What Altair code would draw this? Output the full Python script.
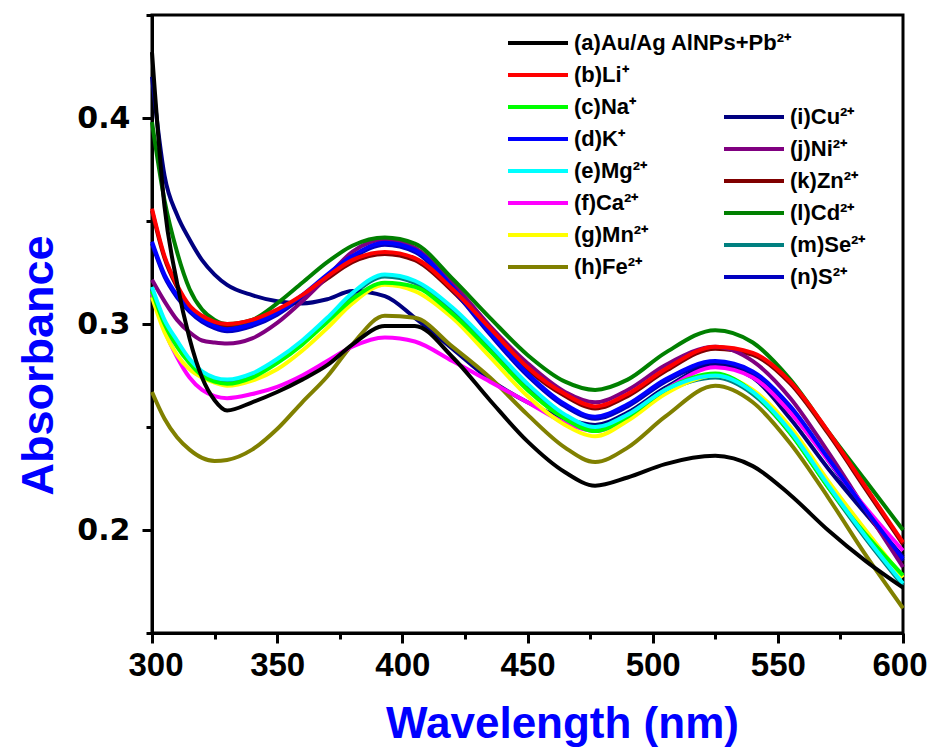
import altair as alt
import pandas as pd

# Wavelength grid (nm)
WL = [300, 305, 310, 315, 320, 325, 330, 340, 350, 360, 370, 380, 393, 405, 420,
      435, 450, 465, 477, 490, 505, 525, 540, 555, 570, 585, 600]

# Absorbance values
A_PB = [.432, .357, .320, .293, .274, .263, .258, .262, .267, .273, .280, .290, .299, .299, .284,
        .263, .243, .228, .2215, .2255, .232, .236, .231, .217, .200, .185, .172]
B_LI = [.356, .333, .319, .309, .304, .301, .300, .302, .307, .314, .323, .331, .335, .332, .317,
        .298, .279, .266, .260, .266, .278, .289, .286, .272, .248, .221, .194]
C_NA = [.316, .300, .289, .281, .275, .272, .271, .274, .281, .290, .301, .312, .320, .318, .305,
        .287, .268, .254, .248, .255, .268, .276, .267, .247, .221, .198, .178]
D_K = [.340, .324, .314, .307, .302, .299, .2975, .300, .3055, .314, .324, .333, .3395, .336, .318,
       .296, .276, .261, .255, .261, .273, .282, .277, .260, .235, .210, .186]
E_MG = [.318, .302, .292, .283, .277, .274, .273, .276, .283, .292, .303, .315, .324, .321, .308,
        .290, .271, .256, .250, .256, .268, .275, .267, .248, .222, .197, .174]
F_CA = [.315, .297, .284, .274, .268, .265, .264, .266, .2695, .275, .282, .289, .2935, .2915, .282,
        .272, .262, .252, .248, .255, .268, .279, .274, .257, .234, .211, .190]
G_MN = [.313, .296, .285, .278, .274, .2715, .270, .2725, .278, .287, .298, .310, .319, .316, .303,
        .284, .265, .251, .2455, .253, .266, .275, .268, .250, .224, .200, .177]
H_FE = [.267, .254, .245, .239, .235, .2335, .234, .239, .249, .262, .2745, .290, .304, .303, .289,
        .274, .256, .240, .233, .240, .255, .270, .262, .242, .216, .188, .162]
I_CU = [.420, .372, .353, .341, .331, .324, .319, .314, .311, .310, .312, .316, .3135, .303, .288,
        .273, .262, .254, .251, .257, .269, .280, .274, .254, .230, .208, .187]
J_NI = [.3215, .311, .302, .296, .292, .291, .2905, .293, .3005, .311, .323, .335, .341, .337, .320,
        .299, .281, .267, .262, .268, .280, .289, .282, .264, .238, .210, .182]
K_ZN = [.355, .332, .318, .308, .303, .300, .299, .301, .306, .313, .322, .330, .334, .331, .316,
        .297, .278, .265, .259, .265, .277, .288, .285, .271, .247, .220, .193]
L_CD = [.398, .360, .335, .317, .307, .302, .300, .302, .310, .320, .330, .338, .342, .339, .322,
        .303, .285, .272, .268, .273, .286, .297, .291, .273, .248, .224, .200]
M_SE = [.317, .301, .291, .282, .276, .273, .272, .275, .282, .291, .302, .314, .323, .320, .307,
        .289, .270, .255, .249, .255, .267, .274, .266, .247, .221, .196, .173]
N_S = [.339, .323, .313, .306, .301, .298, .2965, .299, .3045, .313, .323, .332, .3385, .335, .317,
       .295, .275, .260, .254, .260, .272, .281, .276, .259, .234, .209, .185]

LABELS_1 = ["(a)Au/Ag AlNPs+Pb²⁺", "(b)Li⁺", "(c)Na⁺", "(d)K⁺",
            "(e)Mg²⁺", "(f)Ca²⁺", "(g)Mn²⁺", "(h)Fe²⁺"]
COLORS_1 = ["#000000", "#FF0000", "#00FF00", "#0000FF",
            "#00FFFF", "#FF00FF", "#FFFF00", "#808000"]
SERIES_1 = [A_PB, B_LI, C_NA, D_K, E_MG, F_CA, G_MN, H_FE]

LABELS_2 = ["(i)Cu²⁺", "(j)Ni²⁺", "(k)Zn²⁺", "(l)Cd²⁺", "(m)Se²⁺", "(n)S²⁺"]
COLORS_2 = ["#000080", "#800080", "#800000", "#008000", "#008080", "#0000C0"]
SERIES_2 = [I_CU, J_NI, K_ZN, L_CD, M_SE, N_S]

DRAW_ORDER_1 = [7, 5, 6, 2, 4, 3, 1, 0]
DRAW_ORDER_2 = [2, 4, 5, 0, 1, 3]


def build(labels, series, order):
    rows = []
    for idx in order:
        for w, v in zip(WL, series[idx]):
            rows.append({"wl": w, "absb": v, "series": labels[idx]})
    return pd.DataFrame(rows)


df1 = build(LABELS_1, SERIES_1, DRAW_ORDER_1)
df2 = build(LABELS_2, SERIES_2, DRAW_ORDER_2)

SANS = "Liberation Sans, Arial, sans-serif"

xscale = alt.Scale(domain=[300, 600], nice=False, zero=False)
yscale = alt.Scale(domain=[0.15, 0.45], nice=False, zero=False)

legend_common = dict(
    orient="none", title=None, symbolType="M-1,0H3", symbolSize=900,
    symbolStrokeWidth=4, labelFont=SANS, labelFontSize=22, labelFontWeight="bold",
    labelColor="black", labelOffset=34, rowPadding=4, padding=0, labelLimit=500,
    symbolOpacity=1,
)

minor_x = alt.Axis(orient="bottom", values=[325, 375, 425, 475, 525, 575], tickSize=6,
                   tickWidth=3, tickColor="black", labels=False, domain=False,
                   title=None, grid=False)
minor_y = alt.Axis(orient="left", values=[0.15, 0.25, 0.35, 0.45], tickSize=6,
                   tickWidth=3, tickColor="black", labels=False, domain=False,
                   title=None, grid=False)

major_x = alt.Axis(orient="bottom", values=[300, 350, 400, 450, 500, 550, 600], format="d",
                   tickSize=10, tickWidth=3, tickColor="black", domainWidth=3,
                   domainColor="black", grid=False, labelFont=SANS, labelFontSize=33,
                   labelFontWeight="bold", labelColor="black", labelPadding=6,
                   labelFlush=True, labelFlushOffset=24,
                   title="Wavelength (nm)", titleFont=SANS, titleFontSize=44,
                   titleFontWeight="bold", titleColor="#0000FF", titleX=410, titleY=104,
                   titleAlign="center", titleBaseline="alphabetic",
                   labelOverlap=False)
major_y = alt.Axis(orient="left", values=[0.2, 0.3, 0.4], format=".1f",
                   tickSize=10, tickWidth=3, tickColor="black", domainWidth=3,
                   domainColor="black", grid=False, labelFont="DejaVu Sans", labelFontSize=30,
                   labelFontWeight="bold", labelColor="black", labelPadding=12,
                   title="Absorbance", titleFont=SANS, titleFontSize=45,
                   titleFontWeight="bold", titleColor="#0000FF", titleX=-100, titleY=350,
                   titleAngle=270, titleAlign="center", titleBaseline="alphabetic",
                   labelFlush=False, labelOverlap=False)

line2 = alt.Chart(df2).mark_line(strokeWidth=4, interpolate="monotone").encode(
    x=alt.X("wl:Q", scale=xscale, axis=minor_x),
    y=alt.Y("absb:Q", scale=yscale, axis=minor_y),
    color=alt.Color("series:N",
                    scale=alt.Scale(domain=LABELS_2, range=COLORS_2),
                    legend=alt.Legend(legendX=570, legendY=85, **legend_common)),
)

line1 = alt.Chart(df1).mark_line(strokeWidth=4, interpolate="monotone").encode(
    x=alt.X("wl:Q", scale=xscale, axis=major_x),
    y=alt.Y("absb:Q", scale=yscale, axis=major_y),
    color=alt.Color("series:N",
                    scale=alt.Scale(domain=LABELS_1, range=COLORS_1),
                    legend=alt.Legend(legendX=354, legendY=11, **legend_common)),
)

chart = alt.layer(line2, line1).resolve_scale(
    color="independent"
).resolve_axis(
    x="independent", y="independent"
).properties(
    width=751, height=618,
    autosize=alt.AutoSizeParams(type="none"),
    padding={"left": 144, "top": 7, "right": 24, "bottom": 114},
).configure_view(stroke="black", strokeWidth=3)

chart.save("out.html", embed_options={"renderer": "svg", "actions": False})
